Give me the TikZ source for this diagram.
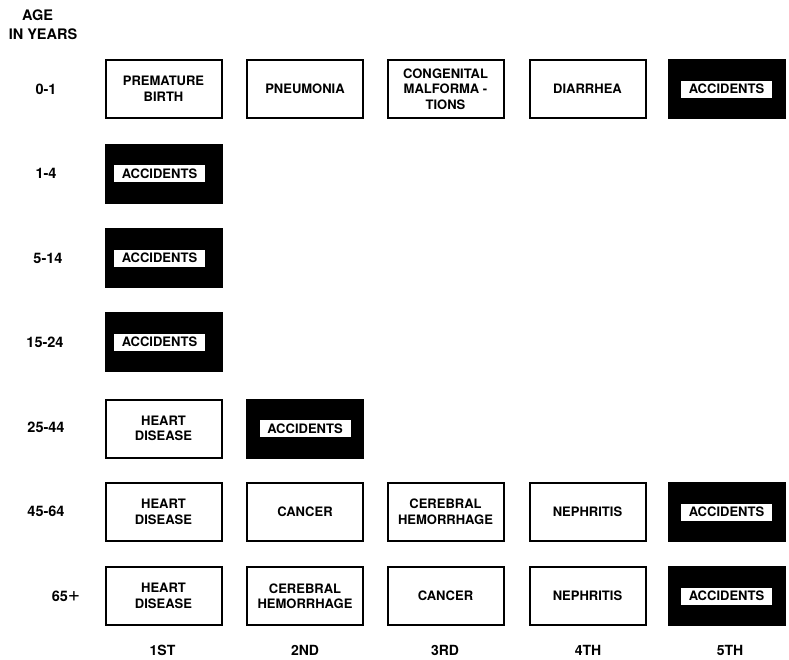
\documentclass[tikz,border=0pt]{standalone}
\usepackage{fontspec}
\setmainfont{TeX Gyre Heros}
\begin{document}
\begin{tikzpicture}[x=1pt,y=-1pt,
  cause/.style={draw=black, line width=2pt, fill=white, minimum width=116pt, minimum height=58pt,
    align=center, inner sep=2pt, font=\bfseries\fontsize{13}{15.5}\selectfont},
  blackbox/.style={draw=black, line width=2pt, fill=black, minimum width=116pt, minimum height=58pt, inner sep=0pt},
  strip/.style={fill=white, minimum width=91pt, minimum height=17pt, inner sep=0pt, font=\bfseries\fontsize{13}{15.5}\selectfont},
  agelab/.style={font=\bfseries\fontsize{14.5}{16}\selectfont, inner sep=0pt},
  rank/.style={font=\bfseries\fontsize{14}{16}\selectfont, inner sep=0pt}]
\useasboundingbox (0,0) rectangle (789,659);
% headers
\node[agelab] (hage) at (37.5,15) {AGE};
\node[agelab] (hyears) at (43,34) {IN YEARS};
% age labels
\node[agelab] (a1) at (46,89) {0-1};
\node[agelab] (a2) at (46,173.5) {1-4};
\node[agelab] (a3) at (48,258) {5-14};
\node[agelab] (a4) at (45,342) {15-24};
\node[agelab] (a5) at (46,427) {25-44};
\node[agelab] (a6) at (46,511) {45-64};
\node[agelab] (a7) at (66,596) {65{\fontsize{21}{21}\selectfont\mdseries +}};
% row 0-1
\node[cause] (r1c1) at (163.5,89) {PREMATURE\\BIRTH};
\node[cause] (r1c2) at (305,89) {PNEUMONIA};
\node[cause] (r1c3) at (445.5,89) {CONGENITAL\\MALFORMA -\\TIONS};
\node[cause] (r1c4) at (587.5,89) {DIARRHEA};
\node[blackbox] (r1c5) at (726.5,89) {};
\node[strip] (r1c5t) at (r1c5) {ACCIDENTS};
% row 1-4
\node[blackbox] (r2c1) at (163.5,173.5) {};
\node[strip] (r2c1t) at ([xshift=-4pt]r2c1.center) {ACCIDENTS};
% row 5-14
\node[blackbox] (r3c1) at (163.5,258) {};
\node[strip] (r3c1t) at ([xshift=-4pt]r3c1.center) {ACCIDENTS};
% row 15-24
\node[blackbox] (r4c1) at (163.5,342) {};
\node[strip] (r4c1t) at ([xshift=-4pt]r4c1.center) {ACCIDENTS};
% row 25-44
\node[cause] (r5c1) at (163.5,428.5) {HEART\\DISEASE};
\node[blackbox] (r5c2) at (305,428.5) {};
\node[strip] (r5c2t) at (r5c2) {ACCIDENTS};
% row 45-64
\node[cause] (r6c1) at (163.5,512) {HEART\\DISEASE};
\node[cause] (r6c2) at (305,512) {CANCER};
\node[cause] (r6c3) at (445.5,512) {CEREBRAL\\HEMORRHAGE};
\node[cause] (r6c4) at (587.5,512) {NEPHRITIS};
\node[blackbox] (r6c5) at (726.5,512) {};
\node[strip] (r6c5t) at (r6c5) {ACCIDENTS};
% row 65+
\node[cause] (r7c1) at (163.5,596) {HEART\\DISEASE};
\node[cause] (r7c2) at (305,596) {CEREBRAL\\HEMORRHAGE};
\node[cause] (r7c3) at (445.5,596) {CANCER};
\node[cause] (r7c4) at (587.5,596) {NEPHRITIS};
\node[blackbox] (r7c5) at (726.5,596) {};
\node[strip] (r7c5t) at (r7c5) {ACCIDENTS};
% rank labels
\node[rank] (k1) at (162.5,650) {1ST};
\node[rank] (k2) at (305,650) {2ND};
\node[rank] (k3) at (445,650) {3RD};
\node[rank] (k4) at (588,650) {4TH};
\node[rank] (k5) at (730,650) {5TH};
\end{tikzpicture}
\end{document}
